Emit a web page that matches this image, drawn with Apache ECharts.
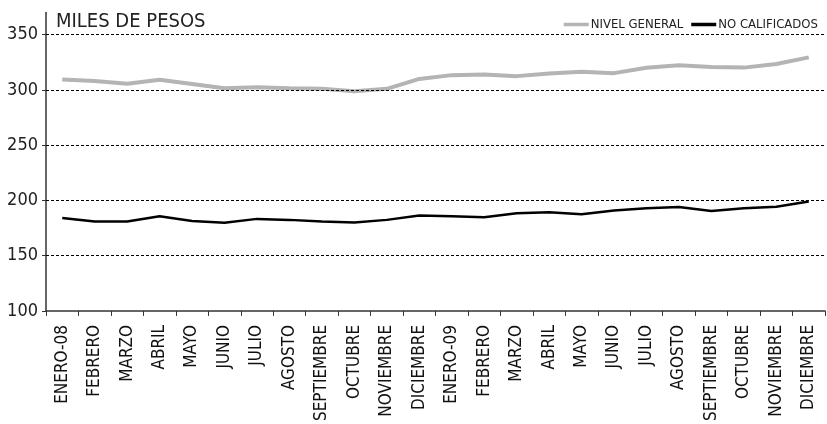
<!DOCTYPE html>
<html><head><meta charset="utf-8">
<script src="https://cdn.jsdelivr.net/npm/echarts@6/dist/echarts.min.js"></script>
<style>html,body{margin:0;padding:0;background:#fff}#c{width:827px;height:424px}</style>
</head><body><div id="c"></div>
<script>
var categories = ['ENERO-08','FEBRERO','MARZO','ABRIL','MAYO','JUNIO','JULIO','AGOSTO','SEPTIEMBRE','OCTUBRE','NOVIEMBRE','DICIEMBRE','ENERO-09','FEBRERO','MARZO','ABRIL','MAYO','JUNIO','JULIO','AGOSTO','SEPTIEMBRE','OCTUBRE','NOVIEMBRE','DICIEMBRE'];
var nivelGeneral = [309.5,308,305.7,309.2,305.4,301.5,302.4,301.5,301,298.8,301,310,313.4,314,312.5,314.9,316.4,315.2,320,322.3,320.8,320.2,323.5,329.5];
var noCalificados = [184.2,181,181,185.7,181.3,179.8,183.3,182.4,181,180,182.4,186.3,185.7,184.8,188.4,189.3,187.5,190.8,192.9,194,190.5,192.9,194.3,199];
var yTicks = [100,150,200,250,300,350];
var gridValues = [150,200,250,300,350];

var NARROW = '"Liberation Sans Narrow","DejaVu Sans Condensed","Liberation Sans",sans-serif';
var chart = echarts.init(document.getElementById('c'), null, {renderer:'canvas'});
chart.setOption({
  animation:false,
  title:{text:'MILES DE PESOS',left:51,top:7,textStyle:{fontFamily:NARROW,fontSize:20,fontWeight:'normal',color:'#222'}},
  legend:{right:4,top:13,itemWidth:25,itemHeight:3.5,itemGap:8,
    textStyle:{fontFamily:NARROW,fontSize:13,color:'#222',padding:[0,0,0,-3]},
    data:[{name:'NIVEL GENERAL',icon:'rect'},{name:'NO CALIFICADOS',icon:'rect'}]},
  grid:{left:46,right:2,top:12.6,bottom:108,containLabel:false},
  xAxis:{type:'category',data:categories,boundaryGap:true,
    axisLine:{lineStyle:{color:'#333',width:1.5}},
    axisTick:{show:true,length:5,lineStyle:{color:'#333'}},
    axisLabel:{rotate:90,interval:0,margin:14,fontFamily:NARROW,fontSize:17,color:'#111'},
    splitLine:{show:false}},
  yAxis:{type:'value',min:100,max:370,interval:50,
    axisLine:{show:true,lineStyle:{color:'#333',width:1.5}},
    axisTick:{show:true,length:4,customValues:yTicks,lineStyle:{color:'#333'}},
    axisLabel:{customValues:yTicks,margin:8,fontFamily:NARROW,fontSize:18,color:'#222'},
    splitLine:{show:false}},
  series:[
    {name:'NIVEL GENERAL',type:'line',data:nivelGeneral,symbol:'none',lineStyle:{color:'#b4b4b4',width:4},itemStyle:{color:'#b4b4b4'},
     markLine:{silent:true,symbol:'none',label:{show:false},animation:false,
       lineStyle:{color:'#000',width:1,type:[3,2]},
       data:gridValues.map(function(v){return {yAxis:v};})}},
    {name:'NO CALIFICADOS',type:'line',data:noCalificados,symbol:'none',lineStyle:{color:'#000',width:2.5},itemStyle:{color:'#000'}}
  ]
});
</script></body></html>
